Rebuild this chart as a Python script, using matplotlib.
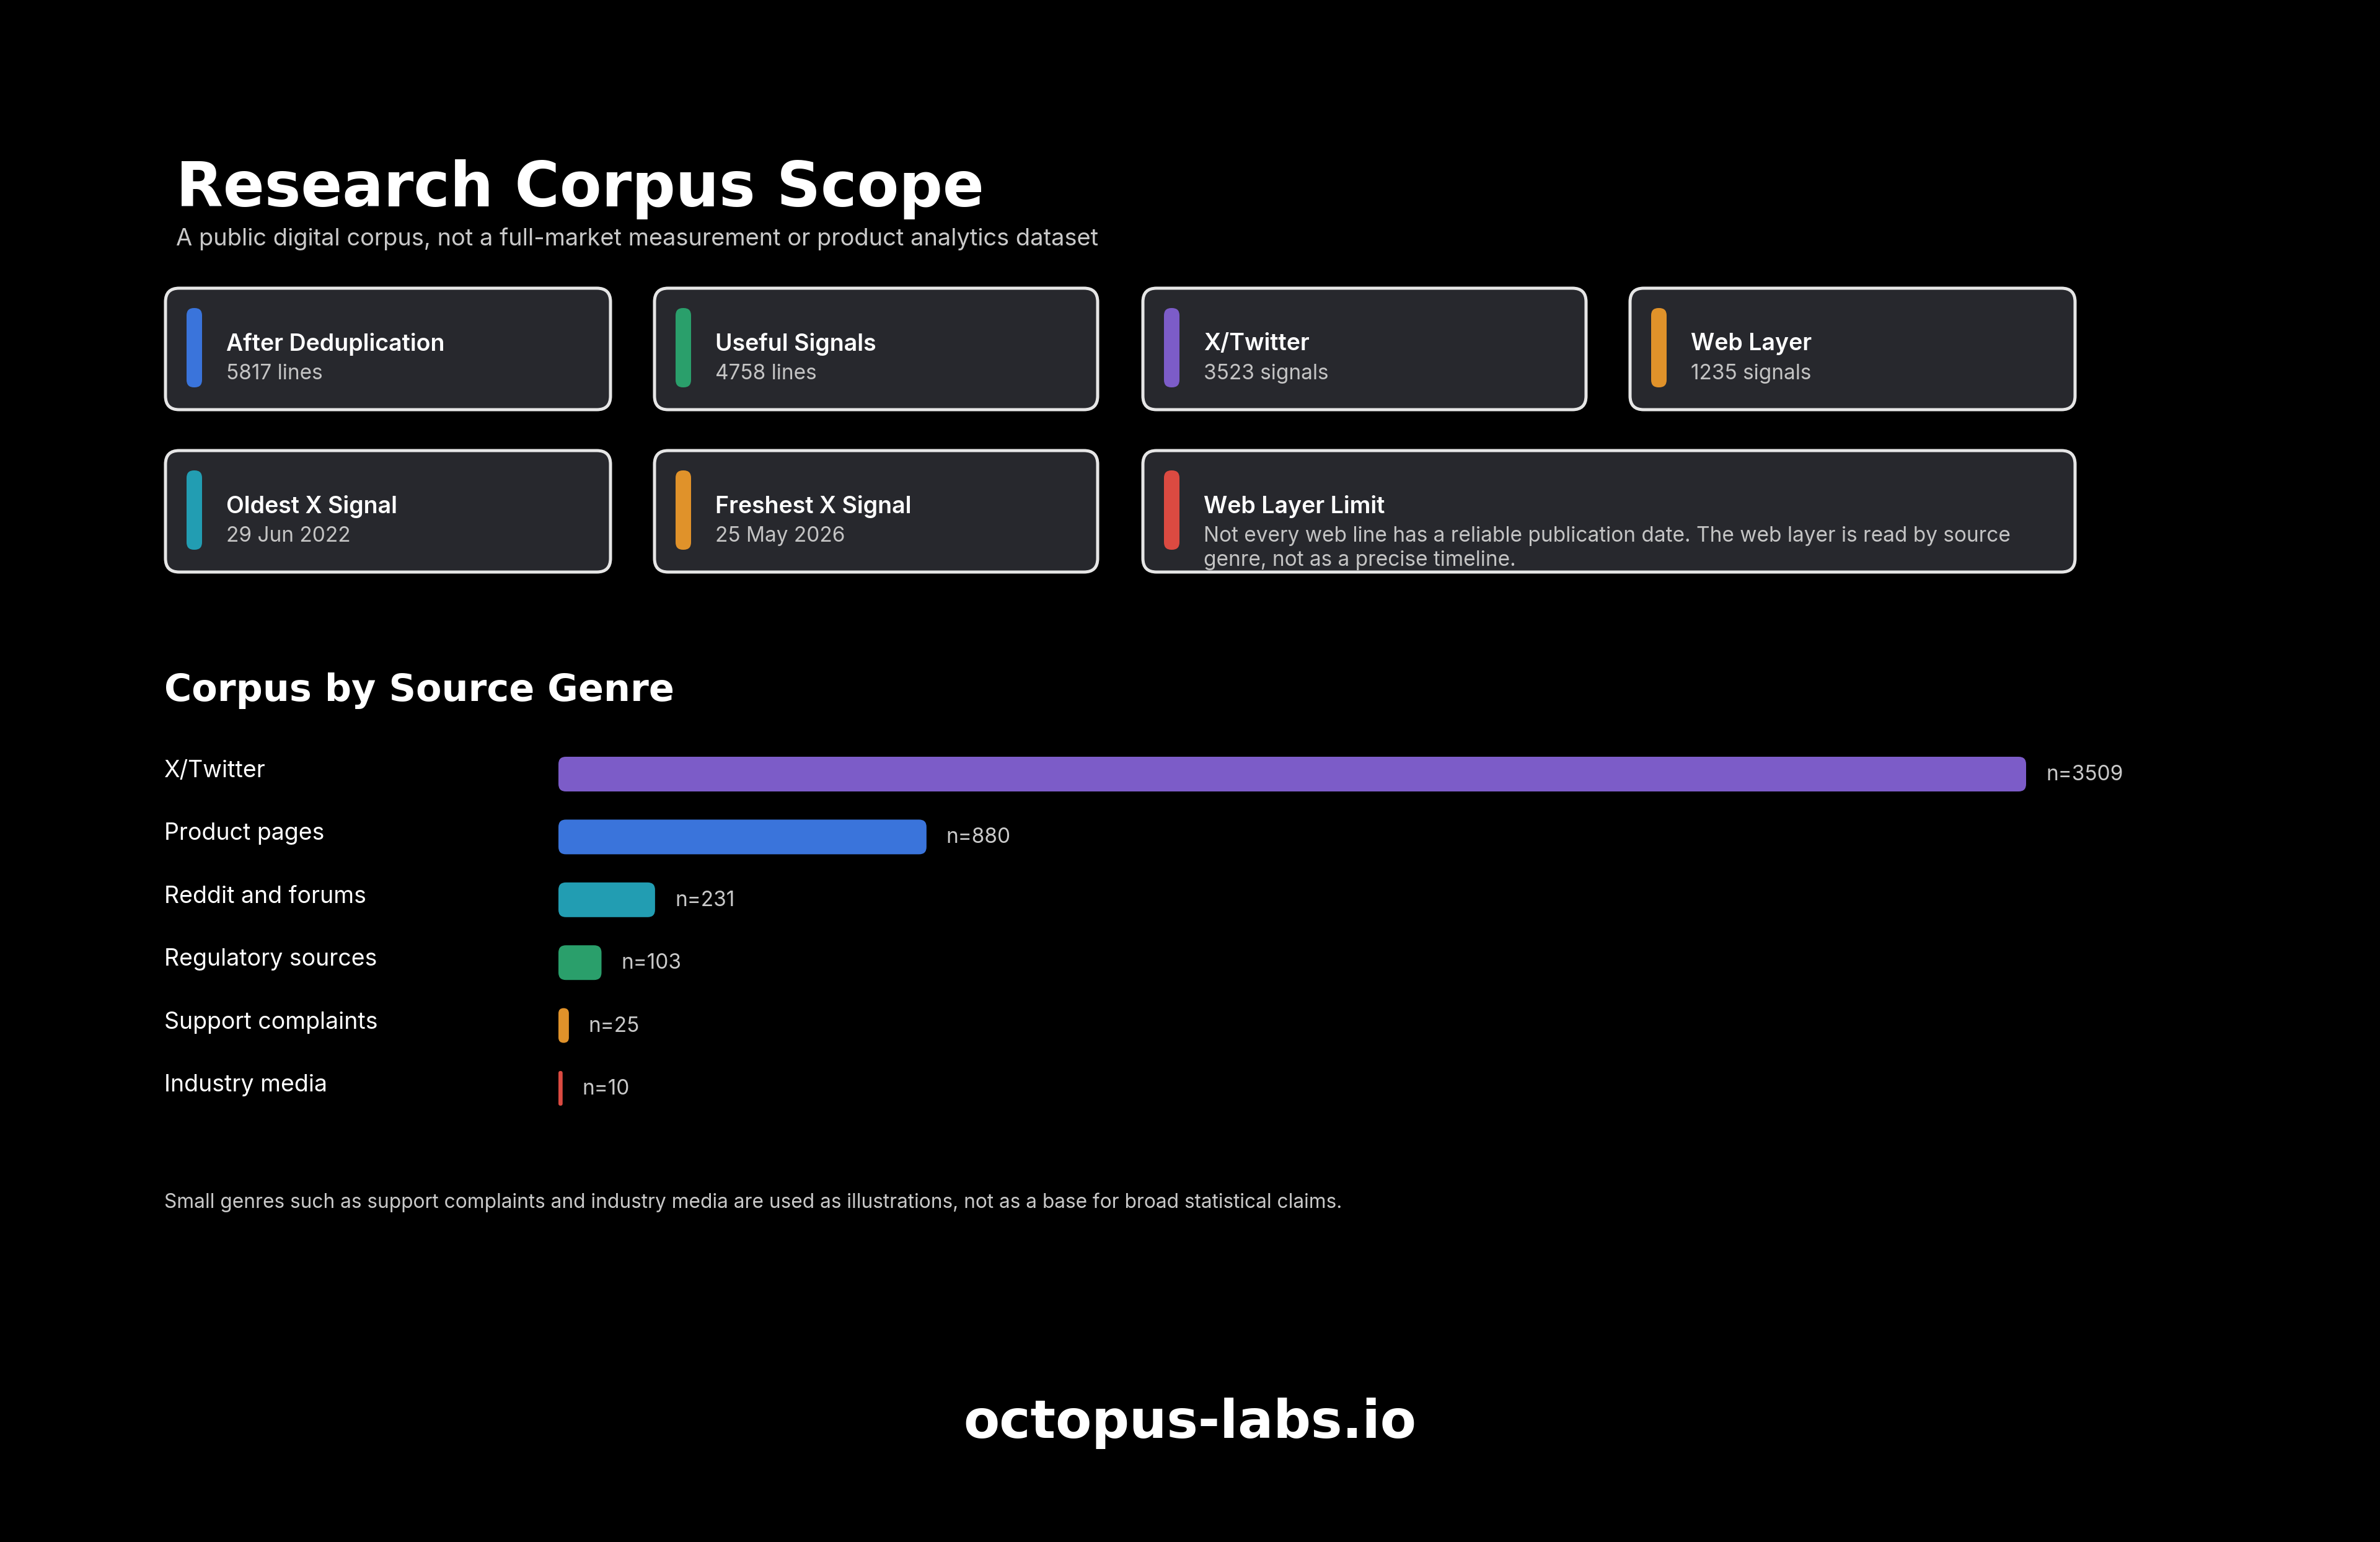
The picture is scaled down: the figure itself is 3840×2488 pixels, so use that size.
import matplotlib
matplotlib.use("Agg")
import matplotlib.pyplot as plt
from matplotlib.patches import FancyBboxPatch
from matplotlib.transforms import blended_transform_factory

# ---- data ----
card_titles = ["After Deduplication", "Useful Signals", "X/Twitter", "Web Layer",
               "Oldest X Signal", "Freshest X Signal", "Web Layer Limit"]
card_values = ["5817 lines", "4758 lines", "3523 signals", "1235 signals",
               "29 Jun 2022", "25 May 2026",
               "Not every web line has a reliable publication date. The web layer is read by source\ngenre, not as a precise timeline."]
card_colors = ["#3a74db", "#2a9f6b", "#7c5cc8", "#e0922a",
               "#229db2", "#e0922a", "#db4a41"]

genres = ["X/Twitter", "Product pages", "Reddit and forums",
          "Regulatory sources", "Support complaints", "Industry media"]
counts = [3509, 880, 231, 103, 25, 10]
genre_colors = ["#7c5cc8", "#3a74db", "#229db2", "#2a9f6b", "#e0922a", "#db4a41"]

W, H = 3840, 2488
BG = "#000000"
CARD = "#27282d"
EDGE = "#e6e6e6"
SANS = ["Inter", "DejaVu Sans"]
WIDE = ["DejaVu Sans"]

fig = plt.figure(figsize=(W / 100, H / 100), dpi=100, facecolor=BG)
bg = fig.add_axes([0, 0, 1, 1])
bg.set_xlim(0, W)
bg.set_ylim(H, 0)
bg.axis("off")

# header
bg.text(284, 333, "Research Corpus Scope", family=WIDE, weight="bold",
        fontsize=71, color="white", va="baseline")
bg.text(284, 386, "A public digital corpus, not a full-market measurement or product analytics dataset",
        family=SANS, fontsize=27.4, color="#c9c9c9", va="center")

# cards (x0, x1, y0, y1) in pixels
card_boxes = [(267, 985, 465, 661), (1056, 1771, 465, 661),
              (1844, 2559, 465, 661), (2630, 3348, 465, 661),
              (267, 985, 727, 923), (1056, 1771, 727, 923),
              (1844, 3348, 727, 923)]

for (x0, x1, y0, y1), title, value, col in zip(card_boxes, card_titles, card_values, card_colors):
    box = FancyBboxPatch((x0, y0), x1 - x0, y1 - y0,
                         boxstyle="round,pad=0,rounding_size=22",
                         facecolor=CARD, edgecolor=EDGE, linewidth=3.6, zorder=2)
    bg.add_patch(box)
    accent = FancyBboxPatch((x0 + 34, y0 + 32), 25, (y1 - y0) - 68,
                            boxstyle="round,pad=0,rounding_size=12",
                            facecolor=col, edgecolor="none", zorder=3)
    bg.add_patch(accent)
    bg.text(x0 + 98, y0 + 90, title, family=SANS, weight="semibold",
            fontsize=27, color="white", va="center", zorder=4)
    bg.text(x0 + 98, y0 + 122, value, family=SANS, fontsize=24,
            color="#c4c4c4", va="top", linespacing=1.3, zorder=4)

# section header
bg.text(265, 1114, "Corpus by Source Genre", family=WIDE, weight="bold",
        fontsize=43.5, color="white", va="center")

# bar chart
row = 101.4
top = 1249 - row / 2
ax = fig.add_axes([901 / W, 1 - (top + 6 * row) / H, (3269 - 901) / W, 6 * row / H])
ax.set_xlim(0, counts[0])
ax.set_ylim(len(genres) - 0.5, -0.5)
ax.axis("off")
ax.patch.set_alpha(0)

bar_h = 56 / row
x_per_px = counts[0] / (3269 - 901)
y_per_px = 1 / row
aspect = y_per_px / x_per_px
r_px = 12

for i, (g, n, col) in enumerate(zip(genres, counts, genre_colors)):
    r = min(r_px * x_per_px, n / 2)
    bar = FancyBboxPatch((0, i - bar_h / 2), n, bar_h,
                         boxstyle=f"round,pad=0,rounding_size={r}",
                         mutation_aspect=aspect,
                         facecolor=col, edgecolor="none")
    ax.add_patch(bar)
    ax.text(n + 32 * x_per_px, i + 0.01, f"n={n}", family=SANS, fontsize=24,
            color="#c9c9c9", va="center", clip_on=False)

lab_tr = blended_transform_factory(bg.transData, ax.transData)
for i, g in enumerate(genres):
    ax.text(265, i - 0.05, g, transform=lab_tr, family=SANS, fontsize=27,
            color="white", va="center", clip_on=False)

# footnote and footer
bg.text(265, 1940, "Small genres such as support complaints and industry media are used as illustrations, "
        "not as a base for broad statistical claims.",
        family=SANS, fontsize=22.8, color="#c9c9c9", va="center")
bg.text(W / 2, 2296, "octopus-labs.io", family=WIDE, weight="bold",
        fontsize=61, color="white", ha="center", va="center")

fig.savefig("out.png", dpi=100, facecolor=BG)
